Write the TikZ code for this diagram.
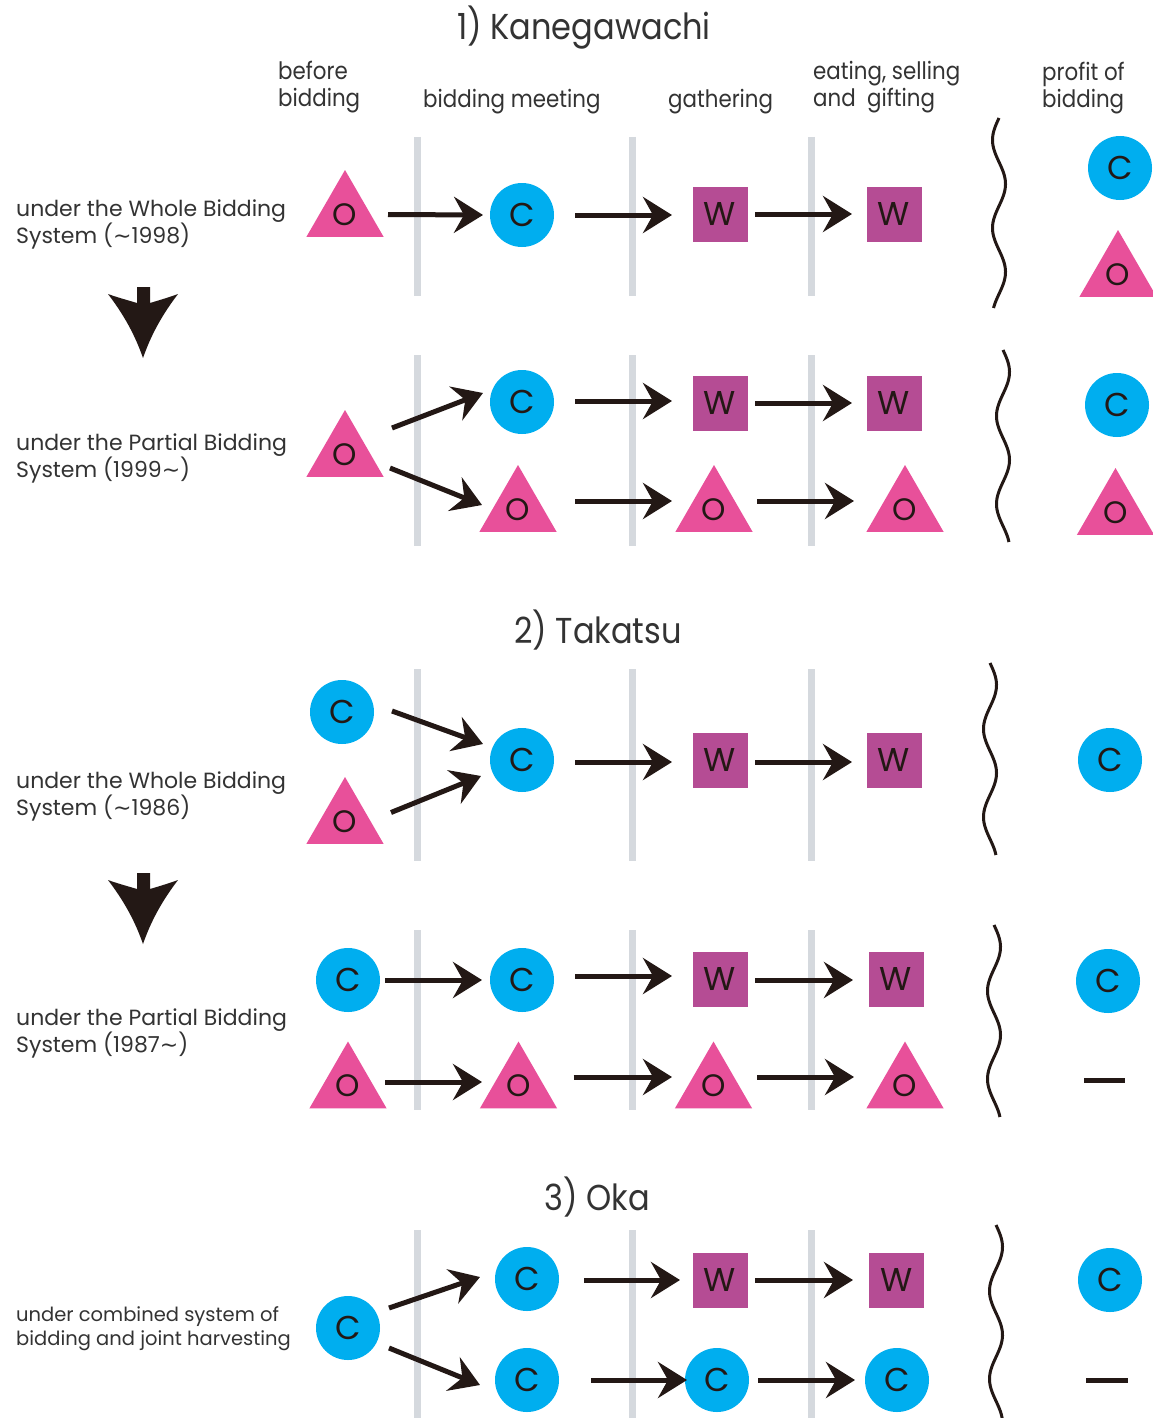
\documentclass[tikz,border=0pt]{standalone}
\usepackage{fontspec}
\setmainfont{Poppins}
\newfontfamily\condfont[FakeStretch=0.89]{Poppins}
\newfontfamily\symfont{DejaVu Sans}
\newcommand{\wavedash}{{\symfont\char"223C}}
\usetikzlibrary{shapes.geometric,arrows.meta,calc}
\definecolor{cyanC}{HTML}{00AEEF}
\definecolor{pinkO}{HTML}{E8509A}
\definecolor{purpW}{HTML}{B54C94}
\definecolor{grayL}{HTML}{D5D9DE}
\definecolor{ink}{HTML}{231815}
\definecolor{txt}{HTML}{333333}
\begin{document}
\begin{tikzpicture}[x=1pt,y=-1pt,
 circC/.style={circle,fill=cyanC,minimum size=64pt,inner sep=0pt,text=ink,font=\fontsize{33}{33}\selectfont},
 triO/.style={regular polygon,regular polygon sides=3,fill=pinkO,minimum size=89pt,inner sep=0pt,text=ink,font=\fontsize{31}{31}\selectfont},
 sqW/.style={rectangle,fill=purpW,minimum size=55pt,inner sep=0pt,text=ink,font=\fontsize{33}{33}\selectfont},
 arr/.style={ink,line width=5pt,-{Stealth[length=29pt,width=36pt,inset=10pt]}},
 sepline/.style={grayL,line width=7pt},
 wave/.style={ink,line width=3pt},
 lbl/.style={anchor=west,align=left,inner sep=0pt,text=txt,font=\fontsize{22}{27}\selectfont},
 hdr/.style={anchor=west,align=left,inner sep=0pt,text=txt,font=\condfont\fontsize{24}{27}\selectfont},
 ttl/.style={inner sep=0pt,text=txt,font=\condfont\fontsize{36}{36}\selectfont},
 nilbar/.style={ink,line width=5pt},
 downarr/.style={fill=ink}
]
\fill[white] (0,0) rectangle (1152,1418);
\path[use as bounding box] (0,0) rectangle (1152,1418);

% ---------- separators ----------
\foreach \x in {417,632,811}{
  \draw[sepline] (\x,137) -- (\x,296);
  \draw[sepline] (\x,355) -- (\x,546);
  \draw[sepline] (\x,669) -- (\x,861);
  \draw[sepline] (\x,930) -- (\x,1110);
  \draw[sepline] (\x,1230) -- (\x,1418);
}
% ---------- waves ----------
\draw[wave] plot[domain=0:190,samples=90,smooth] ({999-6.5*sin(\x/88*360)},{118+\x});
\draw[wave] plot[domain=0:192,samples=90,smooth] ({1003+6.5*sin(\x/88*360)},{350+\x});
\draw[wave] plot[domain=0:192,samples=90,smooth] ({990+6.5*sin(\x/88*360)},{663+\x});
\draw[wave] plot[domain=0:192,samples=90,smooth] ({994+6.5*sin(\x/88*360)},{925+\x});
\draw[wave] plot[domain=0:193,samples=90,smooth] ({996+6.5*sin(\x/88*360)},{1225+\x});

% ---------- titles & headers ----------
\node[ttl] (t1) at (584,28) {1) Kanegawachi};
\node[ttl] (t2) at (598,630) {2) Takatsu};
\node[ttl] (t3) at (597,1197) {3) Oka};
\node[hdr] (h1) at (278,87) {before\\bidding};
\node[hdr] (h2) at (423,102) {bidding meeting};
\node[hdr] (h3) at (668,102) {gathering};
\node[hdr] (h4) at (813,87) {eating, selling\\and\ \ gifting};
\node[hdr] (h5) at (1042,88) {profit of\\bidding};

% ---------- row labels ----------
\node[lbl] (lA) at (16,224) {under the Whole Bidding\\System (\wavedash 1998)};
\node[lbl] (lB) at (16,458) {under the Partial Bidding\\System (1999\wavedash)};
\node[lbl] (lC) at (16,796) {under the Whole Bidding\\System (\wavedash 1986)};
\node[lbl] (lD) at (16,1033) {under the Partial Bidding\\System (1987\wavedash)};
\node[lbl,font=\fontsize{19.5}{24}\selectfont] (lE) at (16,1329) {under combined system of\\bidding and joint harvesting};

% ---------- down arrows ----------
\foreach \yy in {287,873}{
\begin{scope}[yshift=-\yy pt]
\fill[downarr] (137,0) -- (150,0) -- (150,16) .. controls (160,13) and (170,10) .. (178,7)
  .. controls (162,28) and (151,48) .. (143,71) .. controls (135,48) and (124,28) .. (108,7)
  .. controls (116,10) and (127,13) .. (137,16) -- cycle;
\end{scope}}

% ================= 1) Kanegawachi =================
\node[triO] (tA) at (345,214.5) {O};
\node[circC] (cA) at (522,215) {C};
\node[sqW] (wA1) at (720,214) {W};
\node[sqW] (wA2) at (894,214) {W};
\node[circC] (pcA) at (1120,168) {C};
\node[triO] (ptA) at (1118,274.5) {O};
\draw[arr] ([shift={(43,0)}]tA.center) -- ([shift={(-39,0)}]cA.center);
\draw[arr] ([shift={(53,0)}]cA.center) -- ([shift={(-48,1)}]wA1.center);
\draw[arr] ([shift={(35,0)}]wA1.center) -- ([shift={(-42,0)}]wA2.center);

\node[triO] (tB0) at (345,454.5) {O};
\node[circC] (cB) at (522,402) {C};
\node[sqW] (wB1) at (720,403) {W};
\node[sqW] (wB2) at (894,403) {W};
\node[triO] (tB1) at (518,509.5) {O};
\node[triO] (tB2) at (714,509.5) {O};
\node[triO] (tB3) at (905,509.5) {O};
\node[circC] (pcB) at (1117,405) {C};
\node[triO] (ptB) at (1115.5,512.5) {O};
\draw[arr] ([shift={(47,-26.5)}]tB0.center) -- ([shift={(-39,-9)}]cB.center);
\draw[arr] ([shift={(45,13.5)}]tB0.center) -- ([shift={(-36,-4.5)}]tB1.center);
\draw[arr] ([shift={(53,-1)}]cB.center) -- ([shift={(-48,-2)}]wB1.center);
\draw[arr] ([shift={(35,0)}]wB1.center) -- ([shift={(-42,0)}]wB2.center);
\draw[arr] ([shift={(57,-8.5)}]tB1.center) -- ([shift={(-42,-8.5)}]tB2.center);
\draw[arr] ([shift={(43,-8.5)}]tB2.center) -- ([shift={(-51,-8.5)}]tB3.center);

% ================= 2) Takatsu =================
\node[circC] (cC0) at (342,712) {C};
\node[triO] (tC0) at (345,821.5) {O};
\node[circC] (cC) at (522,760) {C};
\node[sqW] (wC1) at (720,760) {W};
\node[sqW] (wC2) at (894,760) {W};
\node[circC] (pcC) at (1110,760) {C};
\draw[arr] ([shift={(50,-1)}]cC0.center) -- ([shift={(-39,-16)}]cC.center);
\draw[arr] ([shift={(46,-9)}]tC0.center) -- ([shift={(-41,16)}]cC.center);
\draw[arr] ([shift={(53,2)}]cC.center) -- ([shift={(-48,2)}]wC1.center);
\draw[arr] ([shift={(35,2)}]wC1.center) -- ([shift={(-42,2)}]wC2.center);

\node[circC] (cD0) at (348,980) {C};
\node[triO] (tD0) at (348,1086) {O};
\node[circC] (cD) at (522,980) {C};
\node[sqW] (wD1) at (720,979.5) {W};
\node[sqW] (wD2) at (896,979.5) {W};
\node[triO] (tD1) at (518.5,1086) {O};
\node[triO] (tD2) at (713.5,1086) {O};
\node[triO] (tD3) at (905,1086) {O};
\node[circC] (pcD) at (1108,981) {C};
\coordinate (dDa) at (1084,1080);
\coordinate (dDb) at (1125,1080);
\draw[nilbar] (dDa) -- (dDb);
\draw[arr] ([shift={(37,0)}]cD0.center) -- ([shift={(-40,0)}]cD.center);
\draw[arr] ([shift={(37,-4)}]tD0.center) -- ([shift={(-36.5,-4)}]tD1.center);
\draw[arr] ([shift={(53,-4)}]cD.center) -- ([shift={(-48,-3.5)}]wD1.center);
\draw[arr] ([shift={(35,0.5)}]wD1.center) -- ([shift={(-43,0.5)}]wD2.center);
\draw[arr] ([shift={(55,-9)}]tD1.center) -- ([shift={(-41.5,-9)}]tD2.center);
\draw[arr] ([shift={(43.5,-9)}]tD2.center) -- ([shift={(-51,-9)}]tD3.center);

% ================= 3) Oka =================
\node[circC] (cE0) at (348,1328) {C};
\node[circC] (cE1) at (527,1279) {C};
\node[circC] (cE2) at (527,1380) {C};
\node[sqW] (wE1) at (720,1280) {W};
\node[sqW] (wE2) at (896.5,1280) {W};
\node[circC] (cE3) at (717,1380) {C};
\node[circC] (cE4) at (897,1380) {C};
\node[circC] (pcE) at (1110,1280) {C};
\coordinate (dEa) at (1086,1380);
\coordinate (dEb) at (1128,1380);
\draw[nilbar] (dEa) -- (dEb);
\draw[arr] ([shift={(41,-20)}]cE0.center) -- ([shift={(-47,-2)}]cE1.center);
\draw[arr] ([shift={(41,20)}]cE0.center) -- ([shift={(-47,5)}]cE2.center);
\draw[arr] ([shift={(57,1)}]cE1.center) -- ([shift={(-40,0)}]wE1.center);
\draw[arr] ([shift={(35,0)}]wE1.center) -- ([shift={(-43.5,0)}]wE2.center);
\draw[arr] ([shift={(64,0)}]cE2.center) -- ([shift={(-30,0)}]cE3.center);
\draw[arr] ([shift={(41,0)}]cE3.center) -- ([shift={(-42,0)}]cE4.center);
\end{tikzpicture}
\end{document}
